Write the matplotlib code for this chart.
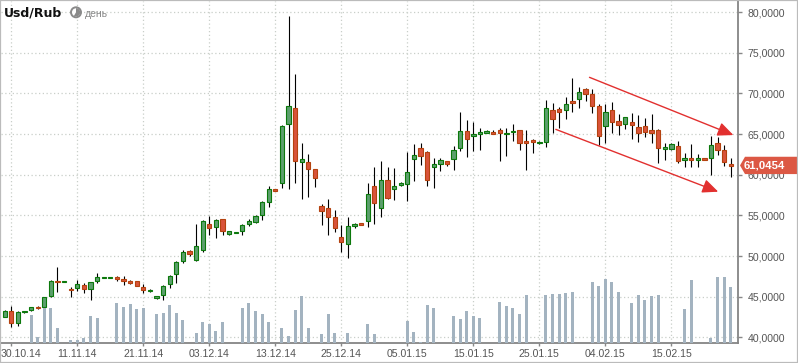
import numpy as np
import matplotlib
matplotlib.use("Agg")
import matplotlib.pyplot as plt
from matplotlib.patches import Polygon, Rectangle, Circle, Wedge
from matplotlib.transforms import IdentityTransform

# daily USD/RUB candles
opens = [42.53, 43.23, 41.72, 43.10, 43.36, 43.73, 43.76, 45.08, 46.90, 46.80,
         46.00, 46.10, 46.43, 45.98, 46.96, 47.30, 47.30, 47.40, 47.17, 46.96,
         46.89, 46.19, 45.66, 44.87, 45.17, 46.52, 47.75, 49.35, 50.58, 49.51,
         50.74, 53.94, 53.60, 54.55, 52.74, 52.85, 53.11, 53.97, 54.22, 55.08,
         56.68, 58.20, 58.94, 66.20, 68.17, 61.60, 61.52, 60.66, 56.15, 55.87,
         54.76, 52.30, 51.51, 53.73, 54.06, 54.27, 58.57, 55.87, 59.31, 58.28,
         58.77, 58.82, 61.97, 63.25, 62.79, 61.00, 61.35, 61.65, 61.89, 63.32,
         65.37, 64.76, 64.97, 65.17, 65.25, 65.46, 65.00, 65.20, 65.46, 64.15,
         64.27, 63.90, 64.06, 67.96, 68.04, 68.00, 69.07, 69.30, 70.54, 69.93,
         68.41, 65.98, 67.92, 66.60, 66.20, 66.48, 65.87, 65.95, 65.50, 65.50,
         63.16, 63.20, 63.53, 61.85, 62.05, 61.85, 62.05, 62.09, 63.94, 63.00,
         61.35]
highs = [43.30, 43.85, 43.23, 43.25, 43.76, 43.80, 45.00, 47.00, 48.68, 46.95,
         46.15, 47.05, 46.70, 46.80, 47.90, 47.38, 47.38, 47.50, 47.50, 47.10,
         46.95, 46.50, 45.90, 45.10, 46.43, 47.66, 49.35, 50.70, 50.75, 53.94,
         54.43, 54.92, 54.51, 54.60, 53.10, 52.95, 53.90, 54.50, 55.04, 56.80,
         58.60, 58.25, 66.11, 79.56, 72.40, 63.86, 62.55, 60.70, 56.40, 57.00,
         55.66, 53.78, 54.80, 54.00, 54.10, 59.02, 60.95, 61.68, 60.95, 60.82,
         59.10, 62.79, 63.74, 63.90, 62.90, 62.06, 62.00, 61.70, 63.57, 67.68,
         66.73, 66.48, 65.70, 65.45, 65.45, 65.70, 65.74, 66.27, 65.50, 65.50,
         64.35, 64.10, 69.19, 68.86, 68.30, 69.60, 71.93, 70.73, 70.70, 70.54,
         68.66, 68.70, 68.94, 67.50, 67.10, 67.55, 67.30, 67.00, 67.47, 65.60,
         63.90, 63.90, 64.20, 62.70, 63.74, 62.50, 62.10, 64.80, 64.70, 63.65,
         62.10]
lows = [42.45, 41.30, 41.39, 43.05, 43.23, 43.50, 43.70, 45.00, 45.60, 46.75,
        45.00, 45.73, 45.50, 44.63, 46.70, 47.28, 47.28, 46.90, 46.40, 46.60,
        46.30, 45.50, 45.55, 44.70, 44.59, 46.10, 46.70, 49.20, 50.00, 49.38,
        50.53, 52.58, 52.25, 52.60, 52.60, 52.80, 52.60, 53.70, 54.02, 54.43,
        55.99, 58.00, 58.40, 58.24, 59.00, 57.00, 57.29, 58.50, 53.80, 52.58,
        52.99, 50.53, 49.79, 53.40, 53.95, 53.53, 53.97, 54.83, 57.00, 56.89,
        58.60, 56.80, 59.26, 61.20, 58.60, 58.40, 60.50, 61.07, 60.58, 62.90,
        62.18, 62.90, 63.00, 65.10, 64.95, 61.70, 62.30, 64.15, 63.00, 60.60,
        62.70, 63.80, 63.44, 65.10, 65.80, 66.90, 67.75, 68.20, 69.10, 67.55,
        63.65, 63.94, 65.10, 64.90, 65.60, 64.43, 64.00, 64.60, 63.86, 61.48,
        61.80, 63.10, 61.40, 60.98, 60.98, 61.00, 61.80, 59.96, 62.40, 61.10,
        59.75]
closes = [43.23, 41.80, 43.07, 43.18, 43.69, 43.55, 44.92, 46.93, 46.80, 46.90,
          45.85, 46.52, 45.98, 46.80, 47.38, 47.36, 47.36, 47.20, 46.96, 46.72,
          46.35, 45.86, 45.82, 45.07, 46.30, 47.54, 49.23, 50.49, 50.25, 51.23,
          54.30, 53.48, 54.43, 53.11, 53.04, 52.93, 53.81, 54.30, 54.96, 56.60,
          58.20, 58.03, 66.00, 68.41, 61.65, 61.90, 60.74, 59.63, 55.57, 54.83,
          53.48, 51.76, 53.65, 53.94, 53.85, 57.59, 56.48, 59.31, 57.17, 58.61,
          58.98, 60.30, 62.39, 62.34, 59.39, 61.32, 61.81, 61.28, 63.04, 65.34,
          64.43, 65.00, 65.25, 65.37, 65.04, 65.17, 65.13, 65.37, 63.94, 63.94,
          64.06, 64.06, 68.17, 66.81, 67.67, 68.70, 68.86, 70.16, 69.93, 68.41,
          64.74, 67.68, 66.44, 66.15, 67.06, 66.08, 65.17, 65.29, 65.17, 63.32,
          63.37, 63.78, 61.68, 62.05, 61.85, 62.05, 61.85, 63.65, 63.00, 61.52,
          61.05]
# relative volume (no scale on the chart)
volumes = [0, 0, 0, 0, 28, 6, 35, 35, 15, 0,
           3, 3, 5, 27, 25, 0, 0, 40, 36, 39,
           34, 35, 0, 29, 30, 38, 30, 23, 0, 10,
           21, 19, 12, 21, 0, 0, 35, 40, 32, 29,
           21, 0, 15, 7, 33, 47, 15, 0, 9, 29,
           10, 0, 10, 0, 0, 19, 9, 0, 0, 0,
           0, 22, 11, 1, 38, 35, 0, 0, 27, 24,
           32, 27, 25, 0, 0, 41, 37, 35, 29, 48,
           0, 0, 48, 49, 49, 50, 51, 0, 0, 61,
           57, 64, 61, 51, 0, 40, 48, 43, 47, 48,
           0, 0, 0, 34, 63, 0, 0, 5, 66, 66,
           56]

date_labels = ["30.10.14", "11.11.14", "21.11.14", "03.12.14", "13.12.14", "25.12.14",
               "05.01.15", "15.01.15", "25.01.15", "04.02.15", "15.02.15"]
date_pos = [1, 11, 21, 31, 41, 51, 61, 71, 81, 91, 101]
price_ticks = [40, 45, 50, 55, 60, 65, 70, 75, 80]
last_price = 61.0454

# hand drawn channel arrows (candle index, price)
upper_arrow = [(88.6, 71.98), (110.4, 64.88)]
lower_arrow = [(83.5, 65.58), (108.1, 57.91)]

GREEN_FILL = "#5c9f6d"
GREEN_EDGE = "#0b780b"
RED_FILL = "#d9533a"
RED_EDGE = "#b4420f"
GRID = "#c9cfc9"
TICK_FONT = dict(family="Liberation Sans", fontsize=7.6, color="#555555")

W, H = 798, 363
fig = plt.figure(figsize=(W / 100, H / 100), dpi=100)
fig.patch.set_facecolor("white")
ax = fig.add_axes([1 / W, (H - 343) / H, 737 / W, 342 / H])
ax.set_facecolor("white")

# volume on its own hidden scale, one unit per pixel of the plot height
vax = ax.twinx()

x = np.arange(len(opens))
o = np.array(opens)
c = np.array(closes)
up = c >= o

ax.vlines(x, lows, highs, color="black", lw=0.8, zorder=2)
body_bottom = np.minimum(o, c)
body_h = np.maximum(np.abs(c - o), 0.08)
ax.bar(x[up], body_h[up], bottom=body_bottom[up], width=0.66,
       color=GREEN_FILL, edgecolor=GREEN_EDGE, lw=0.8, zorder=3)
ax.bar(x[~up], body_h[~up], bottom=body_bottom[~up], width=0.66,
       color=RED_FILL, edgecolor=RED_EDGE, lw=0.8, zorder=3)

for start, end in (upper_arrow, lower_arrow):
    ax.annotate("", xy=end, xytext=start, zorder=6,
                arrowprops=dict(arrowstyle="-|>,head_length=0.95,head_width=0.42",
                                color="#e2302f", lw=1.0, mutation_scale=10,
                                shrinkA=0, shrinkB=0))

ax.set_xlim(-0.56, 111.1)
ax.set_ylim(39.30, 81.37)

ax.set_xticks(date_pos)
ax.set_xticklabels([""] + date_labels[1:])
ax.set_yticks(price_ticks)
ax.set_yticklabels([f"{p:.4f}".replace(".", ",") for p in price_ticks])
ax.yaxis.tick_right()
ax.yaxis.set_label_position("right")
ax.grid(True, color=GRID, linestyle=(0, (1, 2)), lw=0.9, zorder=0)
ax.set_axisbelow(True)

for lab in ax.get_xticklabels() + ax.get_yticklabels():
    lab.set_family(TICK_FONT["family"])
    lab.set_fontsize(TICK_FONT["fontsize"])
    lab.set_color(TICK_FONT["color"])
ax.tick_params(axis="y", which="both", left=False, right=True, labelleft=False,
               labelright=True, direction="out", length=3, width=1,
               color="#888888", pad=4)
ax.tick_params(axis="x", direction="out", length=2.5, width=1, color="#888888", pad=1.5)

# the first date sits against the left edge in the reference
ax.annotate(date_labels[0], xy=(0, 0), xycoords="axes fraction",
            xytext=(-0.5, -4.0), textcoords="offset points",
            ha="left", va="top", annotation_clip=False, **TICK_FONT)

for side in ("top", "left"):
    ax.spines[side].set_visible(False)
for side in ("bottom", "right"):
    ax.spines[side].set_color("#858585")
    ax.spines[side].set_linewidth(1.3)

vax.bar(x, volumes, width=0.45, color="#a3b3c0", zorder=1)
vax.set_ylim(0, 342)
vax.set_xlim(ax.get_xlim())
vax.set_yticks([])
vax.tick_params(axis="y", which="both", left=False, right=False,
                labelleft=False, labelright=False)
for s in vax.spines.values():
    s.set_visible(False)

# last price tag
def px(p):
    return (p - 1) / 737

trans = ax.get_yaxis_transform()
tag = Polygon([(px(740), 61.14), (px(745), 62.21), (px(799), 62.21),
               (px(799), 60.08), (px(745), 60.08)],
              closed=True, transform=trans, clip_on=False,
              facecolor="#dc5844", edgecolor="none", zorder=8)
ax.add_patch(tag)
ax.text(px(764), 61.14, f"{last_price:.4f}".replace(".", ","), transform=trans,
        ha="center", va="center", color="white", fontsize=8.2, fontweight="bold",
        family="Liberation Sans", zorder=9, clip_on=False)

# header
fig.text(3.5 / W, 1 - 12.5 / H, "Usd/Rub", ha="left", va="center",
         fontsize=9, fontweight="bold", color="#111111", family="DejaVu Sans")
icon_c = (76, H - 12.3)
fig.patches.append(Circle(icon_c, 5.0, transform=IdentityTransform(),
                          facecolor="white", edgecolor="#8a8a8a", lw=1.4))
fig.patches.append(Wedge(icon_c, 4.2, -120, 90, transform=IdentityTransform(),
                         facecolor="#8a8a8a", edgecolor="none"))
fig.text(85 / W, 1 - 14 / H, "день", ha="left", va="center",
         fontsize=7.5, color="#888888", family="Liberation Sans")

fig.patches.append(Rectangle((0, 0), 1, 1, transform=fig.transFigure,
                             fill=False, edgecolor="#bbbbbb", lw=1.6))

fig.savefig("out.png", dpi=100, facecolor="white")
